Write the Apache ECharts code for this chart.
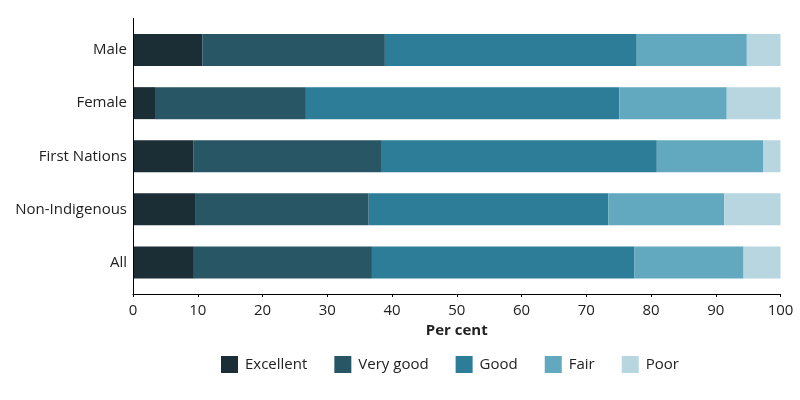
<!DOCTYPE html>
<html>
<head>
<meta charset="utf-8">
<script src="https://cdn.jsdelivr.net/npm/echarts@6/dist/echarts.min.js"></script>
<style>
  html, body { margin: 0; padding: 0; background: #fff; }
  #graph { width: 800px; height: 400px; }
</style>
</head>
<body>
<div id="graph"></div>
<script>
var groups = ['Male', 'Female', 'First Nations', 'Non-Indigenous', 'All'];
var ratings = ['Excellent', 'Very good', 'Good', 'Fair', 'Poor'];
var colours = ['#1b2e35', '#285665', '#2d7d98', '#62a9c0', '#b7d6e0'];

// per cent in each rating, same order as groups
var excellent = [10.7, 3.4, 9.3, 9.7, 9.4];
var veryGood  = [28.2, 23.3, 29.0, 26.7, 27.5];
var good      = [38.9, 48.4, 42.6, 37.0, 40.5];
var fair      = [17.0, 16.6, 16.4, 17.9, 16.9];
var poor      = [5.2, 8.3, 2.7, 8.7, 5.7];

var values = [excellent, veryGood, good, fair, poor];
var font = '"Open Sans", "Noto Sans", sans-serif';

var dom = document.getElementById("graph");
var chart = echarts.init(dom);

chart.setOption({
    animation: false,
    textStyle: { fontFamily: font, color: '#222' },
    grid: { left: 133, right: 19.5, top: 23.5, bottom: 111 },
    legend: {
        left: 216,
        top: 351,
        itemWidth: 17,
        itemHeight: 17,
        itemGap: 27,
        textStyle: { fontFamily: font, fontSize: 15, color: '#222', padding: [0, 0, 0, 2] },
        icon: 'rect',
        data: ratings
    },
    xAxis: {
        type: 'value',
        min: 0,
        max: 100,
        interval: 10,
        offset: 5,
        name: 'Per cent',
        nameLocation: 'middle',
        nameGap: 21,
        nameTextStyle: { fontFamily: font, fontSize: 15, fontWeight: 'bold', color: '#222' },
        axisLine: { show: true, lineStyle: { color: '#000', width: 1 } },
        axisTick: { show: true, length: 3, lineStyle: { color: '#000' } },
        axisLabel: { margin: 9, fontFamily: font, fontSize: 15, color: '#222' },
        splitLine: { show: false }
    },
    yAxis: {
        type: 'category',
        inverse: true,
        data: groups,
        axisLine: { show: false },
        axisTick: { show: false },
        axisLabel: { margin: 6, fontFamily: font, fontSize: 15, color: '#222', padding: [4, 0, 0, 0] }
    },
    graphic: [{
        type: 'line',
        shape: { x1: 133.5, y1: 18, x2: 133.5, y2: 294 },
        style: { stroke: '#000', lineWidth: 1 },
        z: 10
    }],
    series: ratings.map(function (r, i) {
        return {
            name: r,
            type: 'bar',
            stack: 'total',
            barWidth: 32,
            itemStyle: { color: colours[i] },
            data: values[i]
        };
    })
});
</script>
</body>
</html>
